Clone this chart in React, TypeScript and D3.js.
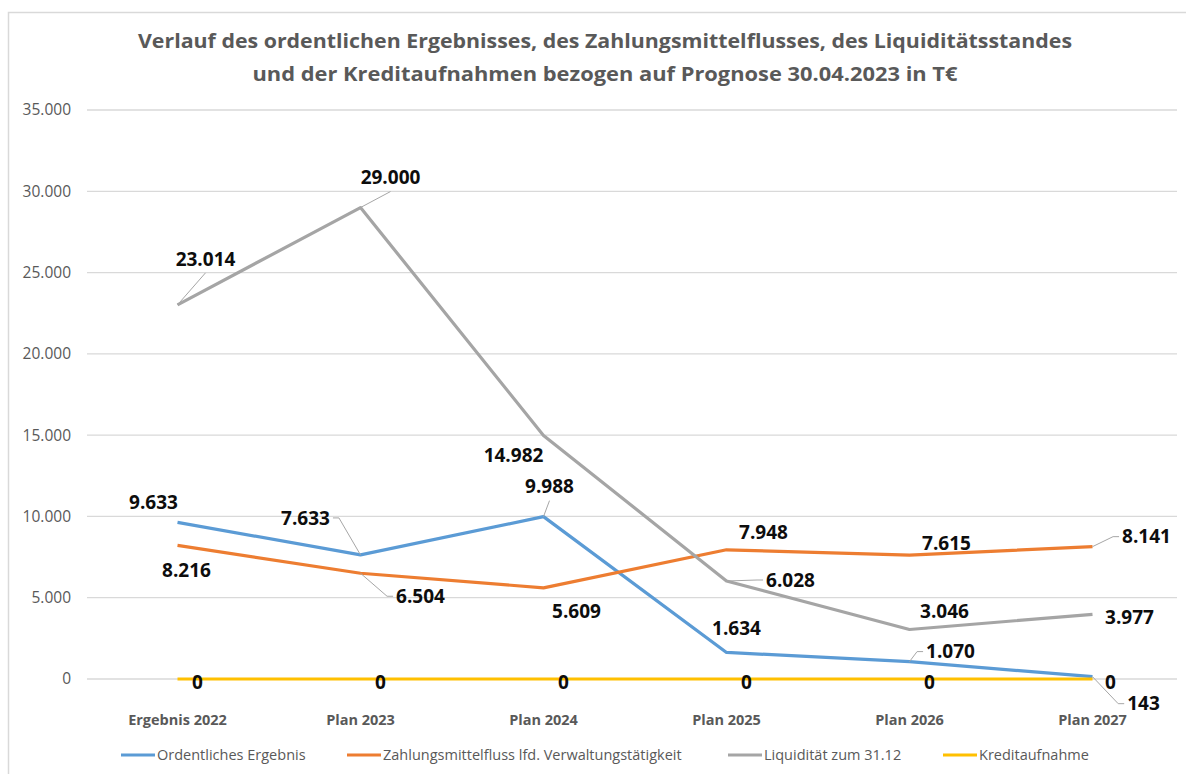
import React, { useRef, useEffect } from 'react';
import * as d3 from 'd3';

// chart values (T€)
const categories = ['Ergebnis 2022', 'Plan 2023', 'Plan 2024', 'Plan 2025', 'Plan 2026', 'Plan 2027'];
const ordentlichesErgebnis = [9633, 7633, 9988, 1634, 1070, 143];
const zahlungsmittelfluss = [8216, 6504, 5609, 7948, 7615, 8141];
const liquiditaet = [23014, 29000, 14982, 6028, 3046, 3977];
const kreditaufnahme = [0, 0, 0, 0, 0, 0];
const yTicks = [0, 5000, 10000, 15000, 20000, 25000, 30000, 35000];
const titleLines = [
  'Verlauf des ordentlichen Ergebnisses, des Zahlungsmittelflusses, des Liquiditätsstandes',
  'und der Kreditaufnahmen bezogen auf Prognose 30.04.2023 in T€',
];

// label placement as Excel left it: [dx, dy, leader] relative to the point
// leader: '' none, 'v' to label bottom, 'h' to label side with elbow
const blueLabels: [number, number, string][] = [[-24, -20, ''], [-55, -37, 'h'], [6, -30, 'v'], [10, -24, ''], [41, -10, 'h'], [51, 27, 'h']];
const orangeLabels: [number, number, string][] = [[9, 25, ''], [60, 23, 'h'], [33, 24, ''], [37, -17, ''], [37, -12, ''], [54, -10, 'h']];
const grayLabels: [number, number, string][] = [[28, -46, 'v'], [30, -30, 'v'], [-30, 20, ''], [64, -1, 'h'], [35, -18, ''], [37, 3, '']];
const yellowLabels: [number, number, string][] = [[20, 3, ''], [20, 3, ''], [20, 3, ''], [20, 3, ''], [20, 3, ''], [18, 3, '']];

const series = [
  { name: 'Ordentliches Ergebnis', values: ordentlichesErgebnis, color: '#5b9bd5', labels: blueLabels },
  { name: 'Zahlungsmittelfluss lfd. Verwaltungstätigkeit', values: zahlungsmittelfluss, color: '#ed7d31', labels: orangeLabels },
  { name: 'Liquidität zum 31.12', values: liquiditaet, color: '#a5a5a5', labels: grayLabels },
  { name: 'Kreditaufnahme', values: kreditaufnahme, color: '#ffc000', labels: yellowLabels },
];

const legendX = [121, 347, 728, 943];

const de = d3.formatLocale({ decimal: ',', thousands: '.', grouping: [3], currency: ['', ' €'] });
const fmt = de.format(',d');

const W = 1186;
const H = 774;
const FONT = '"Open Sans", "Noto Sans", sans-serif';

export default function App() {
  const svgRef = useRef<SVGSVGElement>(null);

  useEffect(() => {
    const svgEl = svgRef.current;
    if (!svgEl) return;
    const svg = d3.select(svgEl);
    svg.selectAll('*').remove();

    const x = d3.scalePoint<string>().domain(categories).range([86, 1184]).padding(0.5);
    const y = d3.scaleLinear().domain([0, 35000]).range([679, 110]);

    svg.append('rect').attr('width', W).attr('height', H).attr('fill', '#fff');
    svg.append('rect')
      .attr('x', 8.5).attr('y', 12.5).attr('width', W).attr('height', H)
      .attr('fill', 'none').attr('stroke', '#d9d9d9').attr('stroke-width', 1.5);

    // title
    const tTitle = svg.append('g');
    titleLines.forEach((line, i) => {
      tTitle.append('text')
        .attr('x', 605).attr('y', 48 + i * 33)
        .attr('text-anchor', 'middle')
        .attr('font-family', FONT).attr('font-weight', 700).attr('font-size', 20)
        .attr('fill', '#595959')
        .attr('textLength', i === 0 ? 934 : 705)
        .attr('lengthAdjust', 'spacingAndGlyphs')
        .text(line);
    });

    // gridlines + y labels
    const grid = svg.append('g');
    grid.selectAll('line').data(yTicks).join('line')
      .attr('x1', 87).attr('x2', 1177)
      .attr('y1', d => y(d)).attr('y2', d => y(d))
      .attr('stroke', '#d9d9d9').attr('stroke-width', 1.3);
    grid.selectAll('text').data(yTicks).join('text')
      .attr('x', 71).attr('y', d => y(d))
      .attr('dy', '0.35em')
      .attr('text-anchor', 'end')
      .attr('font-family', FONT).attr('font-size', 15.5)
      .attr('fill', '#595959')
      .text(d => fmt(d));

    // category labels
    svg.append('g').selectAll('text').data(categories).join('text')
      .attr('x', d => x(d)!).attr('y', 720)
      .attr('dy', '0.35em')
      .attr('text-anchor', 'middle')
      .attr('font-family', FONT).attr('font-weight', 700).attr('font-size', 14.5)
      .attr('fill', '#595959')
      .text(d => d);

    // lines
    const line = d3.line<number>()
      .x((_, i) => x(categories[i])!)
      .y(d => y(d));

    series.forEach(s => {
      svg.append('path')
        .datum(s.values)
        .attr('d', line)
        .attr('fill', 'none')
        .attr('stroke', s.color)
        .attr('stroke-width', 3.2)
        .attr('stroke-linejoin', 'round');
    });

    // data labels with leader lines
    const lbl = svg.append('g');
    series.forEach(s => {
      s.values.forEach((v, i) => {
        const px = x(categories[i])!;
        const py = y(v);
        const [dx, dy, leader] = s.labels[i];
        const lx = px + dx;
        const ly = py + dy;
        const t = lbl.append('text')
          .attr('x', lx).attr('y', ly)
          .attr('dy', '0.35em')
          .attr('text-anchor', 'middle')
          .attr('font-family', FONT).attr('font-weight', 700).attr('font-size', 19)
          .attr('fill', '#0d0d0d')
          .text(fmt(v));
        if (!leader) return;
        const hw = (t.node() as SVGTextElement).getComputedTextLength() / 2;
        let pts: [number, number][];
        if (leader === 'v') {
          pts = [[px, py], [lx, ly + (dy < 0 ? 14 : -14)]];
        } else {
          const side = dx > 0 ? -1 : 1;
          const attach = lx + side * (hw + 3);
          pts = [[px, py], [attach + side * 6, ly], [attach, ly]];
        }
        lbl.insert('path', 'text')
          .attr('d', d3.line()(pts))
          .attr('fill', 'none')
          .attr('stroke', '#a6a6a6')
          .attr('stroke-width', 1);
      });
    });

    // legend
    const lg = svg.append('g');
    series.forEach((s, i) => {
      lg.append('line')
        .attr('x1', legendX[i]).attr('x2', legendX[i] + 34)
        .attr('y1', 755).attr('y2', 755)
        .attr('stroke', s.color).attr('stroke-width', 3.2);
      lg.append('text')
        .attr('x', legendX[i] + 36).attr('y', 755)
        .attr('dy', '0.35em')
        .attr('font-family', FONT).attr('font-size', 14.5)
        .attr('fill', '#595959')
        .text(s.name);
    });
  }, []);

  return (
    <svg
      ref={svgRef}
      width={W}
      height={H}
      style={{ position: 'absolute', left: 0, top: 0, display: 'block' }}
    />
  );
}
